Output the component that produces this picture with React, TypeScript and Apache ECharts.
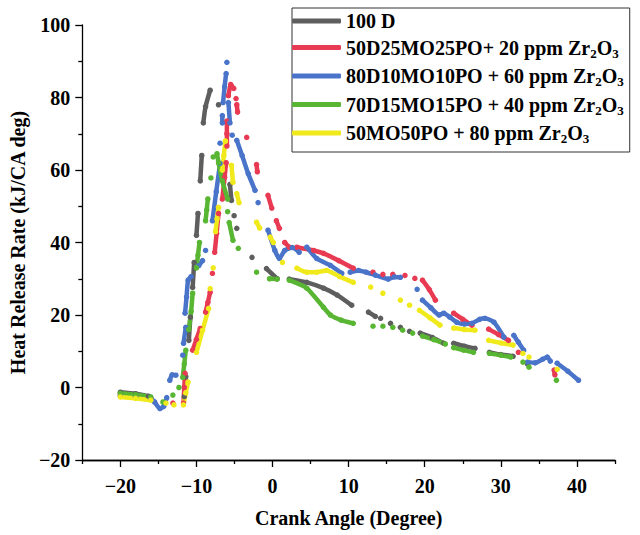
import React, { useEffect, useRef } from "react";
import * as echarts from "echarts";

const FONT = '"Liberation Serif", "Times New Roman", serif';

const seriesNames = [
  "100 D",
  "50D25MO25PO+ 20 ppm Zr₂O₃",
  "80D10MO10PO + 60 ppm Zr₂O₃",
  "70D15MO15PO + 40 ppm Zr₂O₃",
  "50MO50PO + 80 ppm Zr₂O₃",
];
const seriesColors = ["#5e5e5e", "#e83a52", "#4a74c9", "#58b633", "#f0ea1c"];

const xMajorTicks = [-20, -10, 0, 10, 20, 30, 40];
const xMinorTicks = [-25, -15, -5, 5, 15, 25, 35, 45];

// each series: list of drawn segments (gaps between them), points [crank angle, HRR]
const d100 = [
  [[-20, -1.3], [-18, -1.7], [-16.3, -2.4]],
  [[-11.6, -2.5], [-11.4, 3]],
  [[-11.0, 13], [-10.8, 19.4]],
  [[-10.5, 27.6], [-10.3, 34.5]],
  [[-10.0, 42], [-9.8, 48]],
  [[-9.5, 57], [-9.3, 64]],
  [[-9.1, 73], [-8.8, 77.5], [-8.2, 82]],
  [[-7.1, 78]],
  [[-5.6, 56], [-5.4, 51.6]],
  [[-5.05, 47.4]],
  [[-4.7, 43.9]],
  [[-2.7, 35.9]],
  [[-0.8, 32.8], [0.6, 30]],
  [[2.2, 29.9], [4.5, 29], [6.7, 27.4], [8.5, 25.5], [10.4, 22.7]],
  [[12.6, 20.8], [13.5, 19.6]],
  [[14.2, 19.1]],
  [[15.5, 17.7]],
  [[16.8, 16.6]],
  [[18, 15.5]],
  [[19.4, 15], [21, 13.8], [22.5, 12.2]],
  [[23.8, 12.2], [25.2, 11.4], [26.6, 10.8]],
  [[28.5, 9.7], [30, 9.1], [31.6, 8.6]],
  [[33.5, 6.5]],
];

const b50d25 = [
  [[-20, -2], [-18, -2.4], [-16, -3]],
  [[-13.1, -4.3]],
  [[-11.7, -4.3], [-11.6, 0], [-11.5, 3.9]],
  [[-10.5, 10.3], [-10.0, 13.3], [-9.5, 16.3]],
  [[-8.8, 20.8], [-8.5, 23.5], [-8.2, 26.3]],
  [[-7.9, 31.5]],
  [[-7.6, 37.3], [-7.35, 42.5], [-7.1, 48]],
  [[-6.6, 52], [-6.3, 58], [-6.1, 62]],
  [[-6.0, 66.6], [-6.0, 70], [-6.0, 73.5]],
  [[-5.8, 80.5], [-5.5, 83.6], [-5.1, 82.5]],
  [[-4.8, 79.7]],
  [[-4.7, 78], [-4.6, 76]],
  [[-3.4, 69]],
  [[-2.1, 61.5], [-2.0, 59.5]],
  [[-0.6, 53], [-0.1, 49.5]],
  [[0.5, 46], [0.9, 43.9]],
  [[1.6, 40], [2.2, 38.7]],
  [[3.2, 38.7], [5.4, 37.8], [6.7, 37], [8.7, 35], [10.6, 32.9]],
  [[13.2, 31.8]],
  [[14.5, 31.2]],
  [[15.8, 31.2]],
  [[17.4, 30.9]],
  [[18.7, 30.1]],
  [[19.7, 29.6], [20.6, 27], [21.4, 24.1]],
  [[23.8, 20.5], [25, 18.8], [26.2, 17.2]],
  [[28.4, 16.1], [29.7, 14.6], [31, 13]],
  [[32.3, 9.7]],
  [[37, 4.8], [37.1, 3.5]],
];

const b80d10 = [
  [[-20, -2.3], [-18, -2.6], [-16, -3], [-15.5, -4], [-14.8, -5.8], [-14.3, -5.2], [-13.9, -2.8]],
  [[-13.5, 2], [-13.2, 3.5], [-12.7, 3.4]],
  [[-11.8, 8.9]],
  [[-11.7, 12.2], [-11.4, 16.6]],
  [[-11.5, 20.5], [-11.3, 25], [-11.1, 29.6], [-10.7, 30.6]],
  [[-9.7, 33.6], [-9.2, 35]],
  [[-8.8, 37.8]],
  [[-7.9, 46], [-7.4, 54], [-6.9, 61.8]],
  [[-6.9, 67.4]],
  [[-6.6, 73], [-6.6, 75]],
  [[-6.5, 78.6], [-6.3, 83], [-6.1, 86.6]],
  [[-6.0, 89.7]],
  [[-5.8, 78.6], [-5.6, 73]],
  [[-5.3, 69.6]],
  [[-4.7, 68.2], [-4.0, 64], [-3.2, 59], [-2.3, 54.4]],
  [[-1.9, 51]],
  [[-0.6, 43.4], [0.3, 37.8], [0.9, 35.6], [1.6, 37.8], [2.6, 38.6], [3.5, 37.3]],
  [[4.5, 38.7], [5.8, 35.6], [7.6, 33.7], [9.1, 31.5]],
  [[10.2, 31.8], [11.3, 32.3], [12.3, 31.8], [13.5, 31], [15.2, 29.9], [16.0, 30.5], [16.8, 30.4]],
  [[19, 27.1]],
  [[19.7, 24.1], [20.8, 22], [21.9, 20], [22.5, 20.5], [23.3, 19.4], [24.2, 18], [25.2, 17.5], [26.2, 17.7], [27.2, 18.8], [27.9, 19.1], [29.1, 18], [30.4, 13.9]],
  [[31.7, 14.4], [32.3, 12.5], [33, 10.3]],
  [[33.5, 7], [34.5, 6.8], [35.5, 7.8], [36.1, 8.4], [36.5, 7.3]],
  [[37.4, 6.7], [38.8, 4.5], [40.2, 2]],
];

const b70d15 = [
  [[-20, -1.6], [-18, -2], [-16, -2.6]],
  [[-14.4, -4]],
  [[-13.1, -2.1]],
  [[-12.3, 0]],
  [[-11.8, 2.8], [-11.6, 6.5], [-11.4, 10.3]],
  [[-11.0, 16], [-10.7, 21], [-10.5, 26]],
  [[-10.0, 33], [-9.8, 36.5], [-9.6, 40]],
  [[-8.8, 46], [-8.65, 49], [-8.5, 52]],
  [[-8.1, 57.8]],
  [[-7.8, 63.6]],
  [[-7.3, 64.5], [-7.1, 62], [-6.6, 57], [-5.9, 52]],
  [[-5.9, 48.5]],
  [[-5.7, 45.5], [-5.2, 40.6]],
  [[-4.5, 38.4]],
  [[-2.1, 31.8]],
  [[-0.4, 30], [0.6, 29.9]],
  [[2.2, 29.6], [4.5, 27.4], [6.7, 22.1], [7.6, 20], [9, 18.6], [10.6, 17.7]],
  [[13.2, 16.9]],
  [[14.5, 16.9]],
  [[15.8, 16.6]],
  [[17.1, 15.8]],
  [[18.4, 15]],
  [[19.7, 14.2], [21.2, 13.2], [22.7, 12]],
  [[23.8, 11], [25.1, 10.3], [26.4, 9.7]],
  [[28.5, 9.4], [30, 8.9], [31.3, 8.4]],
  [[32.9, 7]],
  [[33.7, 5.6]],
  [[37.3, 2]],
];

const mo50po50 = [
  [[-20, -2.6], [-18, -3], [-16, -3.5]],
  [[-14, -4.3]],
  [[-12.95, -4.8]],
  [[-11.7, -4.8], [-11.4, -1.5], [-11.1, 1.5]],
  [[-10, 9.7], [-9.2, 15.8], [-8.4, 21.8]],
  [[-8.2, 27.3]],
  [[-7.8, 33]],
  [[-7.5, 43], [-7.3, 46.5], [-7.1, 49.7]],
  [[-6.6, 60], [-6.4, 64], [-6.2, 68]],
  [[-5.4, 61.3], [-5.2, 56.6]],
  [[-4.7, 53.5], [-4.4, 51]],
  [[-2.1, 45.6], [-1.7, 44]],
  [[-0.3, 41.5], [0.1, 40]],
  [[1.3, 34.5]],
  [[3.2, 32.9], [4.5, 31.8], [5.8, 31.8], [7.1, 32.3], [8.8, 30.6], [10.6, 29]],
  [[12.9, 27.7]],
  [[14.5, 26]],
  [[16.8, 24.1]],
  [[18, 22.7]],
  [[19.3, 21.3], [20.7, 19.2], [22, 17.2]],
  [[23.8, 16.4], [25.2, 16], [26.6, 15.8]],
  [[28.4, 13], [30, 12.3], [31.6, 11.7]],
  [[32.9, 9.4]],
  [[33.7, 8.4]],
  [[37.4, 5]],
];

const allSegments = [d100, b50d25, b80d10, b70d15, mo50po50];

function toData(segs: number[][][]) {
  const out: any[] = [];
  segs.forEach((s, i) => {
    if (i > 0) out.push([s[0][0], "-"]);
    s.forEach((p) => out.push(p));
  });
  return out;
}

const fmtNum = (v: number) => (v < 0 ? "\u2212" + Math.abs(v) : String(v));

export default function App() {
  const ref = useRef<HTMLDivElement>(null);
  useEffect(() => {
    if (!ref.current) return;
    const chart = echarts.init(ref.current, undefined, { renderer: "svg" });
    const txt = { fontFamily: FONT, fontWeight: "bold" as const, color: "#000" };
    const axisLineStyle = { color: "#000", width: 1.3 };
    chart.setOption({
      animation: false,
      backgroundColor: "#fff",
      grid: { left: 76, right: 25, top: 25, bottom: 75, containLabel: false },
      legend: {
        orient: "vertical",
        left: 292,
        top: 8,
        itemWidth: 49,
        itemHeight: 5,
        icon: "roundRect",
        itemGap: 6.5,
        padding: [3, 6, 7, 0],
        borderColor: "#333",
        borderWidth: 1,
        data: seriesNames,
        formatter: (name: string) => {
          const parts = name.split("Zr₂O₃");
          if (parts.length < 2) return `{a|${name}}`;
          return `{a|${parts[0]}Zr}{s|2}{a|O}{s|3}`;
        },
        textStyle: {
          ...txt,
          fontSize: 20,
          rich: {
            a: { ...txt, fontSize: 20, lineHeight: 24 },
            s: { ...txt, fontSize: 13, lineHeight: 9, verticalAlign: "bottom" },
          },
        },
      },
      xAxis: [
        {
          type: "value",
          min: -25,
          max: 45,
          interval: 5,
          name: "Crank Angle (Degree)",
          nameLocation: "middle",
          nameGap: 48,
          nameTextStyle: { ...txt, fontSize: 20 },
          axisLine: { show: true, onZero: false, lineStyle: axisLineStyle },
          axisTick: { show: true, length: 7, customValues: xMajorTicks, lineStyle: axisLineStyle },
          axisLabel: { ...txt, fontSize: 20, margin: 16, customValues: xMajorTicks, formatter: fmtNum },
          splitLine: { show: false },
        },
        {
          type: "value",
          min: -25,
          max: 45,
          interval: 5,
          position: "bottom",
          offset: 0,
          axisLine: { show: true, onZero: false, lineStyle: axisLineStyle },
          axisTick: { show: true, length: 4, customValues: xMinorTicks, lineStyle: axisLineStyle },
          axisLabel: { show: false },
          splitLine: { show: false },
        },
      ],
      yAxis: {
        type: "value",
        min: -20,
        max: 100,
        interval: 20,
        name: "Heat Release Rate (kJ/CA deg)",
        nameLocation: "middle",
        nameGap: 53,
        nameTextStyle: { ...txt, fontSize: 20 },
        axisLine: { show: true, onZero: false, lineStyle: axisLineStyle },
        axisTick: { show: true, length: 7, lineStyle: axisLineStyle },
        minorTick: { show: true, splitNumber: 2, length: 4, lineStyle: axisLineStyle },
        axisLabel: { ...txt, fontSize: 20, margin: 12, formatter: fmtNum },
        splitLine: { show: false },
      },
      series: allSegments.map((segs, i) => ({
        name: seriesNames[i],
        type: "line",
        xAxisIndex: 0,
        data: toData(segs),
        connectNulls: false,
        showSymbol: true,
        symbol: "circle",
        symbolSize: 5.5,
        smooth: 0.2,
        itemStyle: { color: seriesColors[i] },
        lineStyle: { color: seriesColors[i], width: 4.5, cap: "round", join: "round" },
        emphasis: { disabled: true },
      })),
    });
    return () => chart.dispose();
  }, []);
  return (
    <div
      ref={ref}
      style={{ position: "fixed", left: 0, top: 0, width: 640, height: 535, background: "#fff" }}
    />
  );
}
